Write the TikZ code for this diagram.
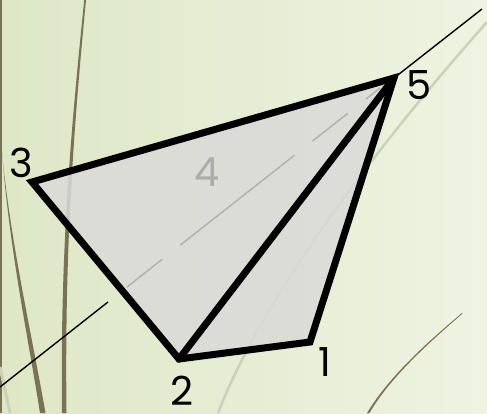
\documentclass[tikz,border=0pt]{standalone}
\usepackage{fontspec}
\setmainfont{Poppins}
\begin{document}
\begin{tikzpicture}[x=1pt,y=-1pt,
  edge/.style={line width=7pt, line join=miter, line cap=round},
  thinline/.style={line width=1.4pt, black},
  hidden/.style={line width=1.5pt, color=hidgray, dash pattern=on 45pt off 23pt on 145pt off 23pt},
  grass/.style={color=grassbrown},
  lbl/.style={font=\fontsize{40}{40}\selectfont, inner sep=0pt}]
\definecolor{bgleft}{RGB}{222,231,198}
\definecolor{bgright}{RGB}{239,243,226}
\definecolor{grassbrown}{RGB}{122,114,86}
\definecolor{grasslight}{RGB}{204,209,184}
\definecolor{polyfill}{RGB}{218,218,216}
\definecolor{hidgray}{RGB}{178,178,176}
\definecolor{lblgray}{RGB}{172,172,170}
\useasboundingbox (0,0) rectangle (487,413);
\shade[left color=bgleft, right color=bgright] (0,0) rectangle (487,413);
% grass
\draw[grass, line width=1.5pt] (0.8,0) -- (0.8,413);
\fill[grass] (0,118) .. controls (5,230) and (27,330) .. (40,413) -- (45.5,413) .. controls (31,330) and (7.5,230) .. (0,130) -- cycle;
\fill[grass] (84.2,0) .. controls (71,130) and (60,250) .. (62,413) -- (66.5,413) .. controls (64.5,250) and (73.5,130) .. (86,0) -- cycle;
\draw[grasslight, line width=3pt] (0,367) .. controls (4,385) .. (10,413);
\draw[grasslight, line width=2.5pt] (487,22) .. controls (400,120) and (270,280) .. (218,413);
\fill[grass] (462,313) .. controls (430,340) and (390,375) .. (367,413) -- (369.5,413) .. controls (391,376) and (431,341) .. (462.5,313.5) -- cycle;
% vertices
\coordinate (v1) at (310,342);
\coordinate (v2) at (179,359);
\coordinate (v3) at (32,182);
\coordinate (v5) at (394,78);
\coordinate (la) at (0,387);
\coordinate (lb) at (108,302);
\coordinate (hc) at (127,287);
\coordinate (hd) at (380,88);
\coordinate (lc) at (482,9);
\fill[polyfill, fill opacity=0.85] (v3) -- (v5) -- (v1) -- (v2) -- cycle;
\draw[hidden] (hc) -- (hd);
\draw[edge] (v3) -- (v5) -- (v1) -- (v2) -- cycle;
\draw[edge] (v2) -- (v5);
\draw[thinline] (la) -- (lb);
\draw[thinline] (v5) -- (lc);
% labels
\node[lbl] (n1) at (325,362) {1};
\node[lbl] (n2) at (182,391) {2};
\node[lbl] (n3) at (21,163) {3};
\node[lbl, text=lblgray] (n4) at (207,172) {4};
\node[lbl] (n5) at (419,85) {5};
\end{tikzpicture}
\end{document}
